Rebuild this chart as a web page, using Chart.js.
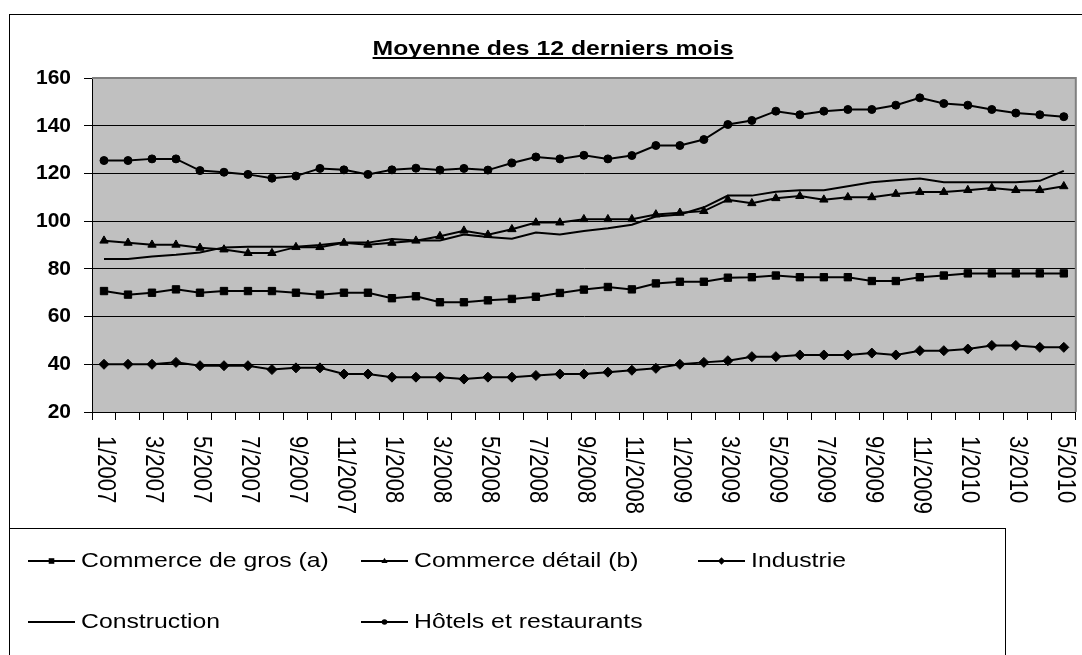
<!DOCTYPE html>
<html>
<head>
<meta charset="utf-8">
<script src="https://cdn.jsdelivr.net/npm/chart.js@4.4.1/dist/chart.umd.min.js"></script>
<style>
  html, body { margin: 0; padding: 0; background: #fff; }
</style>
</head>
<body>
<canvas id="chart" width="1082" height="655"></canvas>
<script>
const months = [
    '1/2007', '2/2007', '3/2007', '4/2007', '5/2007', '6/2007', '7/2007', '8/2007', '9/2007', '10/2007', '11/2007', '12/2007',
    '1/2008', '2/2008', '3/2008', '4/2008', '5/2008', '6/2008', '7/2008', '8/2008', '9/2008', '10/2008', '11/2008', '12/2008',
    '1/2009', '2/2009', '3/2009', '4/2009', '5/2009', '6/2009', '7/2009', '8/2009', '9/2009', '10/2009', '11/2009', '12/2009',
    '1/2010', '2/2010', '3/2010', '4/2010', '5/2010'
];

const grosValues = [
    70.7, 69.2, 70.0, 71.4, 70.0, 70.7, 70.7, 70.7, 70.0, 69.2, 70.0, 70.0,
    67.7, 68.5, 66.0, 66.0, 66.8, 67.4, 68.3, 69.9, 71.3, 72.4, 71.4, 73.9,
    74.6, 74.6, 76.3, 76.5, 77.2, 76.5, 76.5, 76.5, 74.9, 74.9, 76.5, 77.2,
    78.1, 78.1, 78.1, 78.1, 78.1
];
const detailValues = [
    91.8, 90.9, 90.1, 90.1, 88.8, 88.1, 86.6, 86.6, 89.1, 89.1, 90.9, 90.1,
    90.9, 91.8, 93.7, 96.0, 94.3, 96.6, 99.4, 99.4, 100.8, 100.8, 100.8, 102.8,
    103.5, 104.2, 109.0, 107.5, 109.6, 110.5, 109.0, 110.0, 110.0, 111.4, 112.2, 112.2,
    113.0, 113.9, 113.0, 113.0, 114.6
];
const industrieValues = [
    40.0, 40.0, 40.0, 40.8, 39.4, 39.4, 39.4, 37.8, 38.5, 38.5, 35.9, 35.9,
    34.6, 34.6, 34.6, 33.8, 34.6, 34.6, 35.3, 35.9, 35.9, 36.7, 37.5, 38.3,
    40.0, 40.8, 41.5, 43.2, 43.2, 43.9, 43.9, 43.9, 44.7, 43.9, 45.7, 45.7,
    46.4, 47.9, 47.9, 47.1, 47.1
];
const constructionValues = [
    84.1, 84.1, 85.2, 85.9, 86.9, 89.0, 89.3, 89.3, 89.3, 90.0, 91.0, 91.0,
    92.5, 91.9, 91.9, 94.4, 93.4, 92.6, 95.2, 94.4, 95.9, 97.0, 98.5, 101.9,
    102.8, 105.8, 110.7, 110.7, 112.3, 113.0, 113.0, 114.6, 116.3, 117.1, 117.9, 116.3,
    116.3, 116.3, 116.3, 116.9, 121.1
];
const hotelsValues = [
    125.4, 125.4, 126.1, 126.1, 121.2, 120.5, 119.6, 118.0, 118.9, 122.1, 121.5, 119.6,
    121.5, 122.2, 121.4, 122.1, 121.4, 124.4, 126.9, 126.1, 127.6, 126.1, 127.5, 131.7,
    131.7, 134.2, 140.5, 142.2, 146.1, 144.6, 146.1, 146.8, 146.8, 148.6, 151.7, 149.3,
    148.6, 146.8, 145.3, 144.6, 143.8
];

const yTicks = [20, 40, 60, 80, 100, 120, 140, 160];
const chartTitle = 'Moyenne des 12 derniers mois';

const FONT = "'Liberation Sans', Arial, sans-serif";
const STRETCH = 1.18;   // the original text is a bit wider than Arial

function series(label, data, style, radius) {
    return {
        label: label,
        data: data,
        borderColor: '#000',
        backgroundColor: '#000',
        borderWidth: 2,
        pointStyle: style || 'circle',
        pointRadius: radius,
        pointBackgroundColor: '#000',
        pointBorderColor: '#000',
        pointBorderWidth: 1,
        tension: 0
    };
}

function drawMarker(ctx, style, x, y, r) {
    ctx.beginPath();
    if (style === 'rect') {
        ctx.rect(x - r, y - r, 2 * r, 2 * r);
    } else if (style === 'triangle') {
        ctx.moveTo(x, y - r * 1.2);
        ctx.lineTo(x + r * 1.1, y + r * 0.7);
        ctx.lineTo(x - r * 1.1, y + r * 0.7);
        ctx.closePath();
    } else if (style === 'rectRot') {
        ctx.moveTo(x, y - r * 1.3);
        ctx.lineTo(x + r * 1.3, y);
        ctx.lineTo(x, y + r * 1.3);
        ctx.lineTo(x - r * 1.3, y);
        ctx.closePath();
    } else {
        ctx.arc(x, y, r, 0, Math.PI * 2);
    }
    ctx.fill();
}

const decor = {
    id: 'decor',
    beforeDraw(chart) {
        const { ctx, chartArea: a } = chart;
        ctx.save();
        ctx.fillStyle = '#fff';
        ctx.fillRect(0, 0, chart.width, chart.height);
        ctx.fillStyle = '#c0c0c0';
        ctx.fillRect(a.left, a.top, a.right - a.left, a.bottom - a.top);
        ctx.restore();
    },
    beforeDatasetsDraw(chart) {
        const { ctx, chartArea: a } = chart;
        ctx.save();
        ctx.strokeStyle = '#808080';
        ctx.lineWidth = 2;
        ctx.beginPath();
        ctx.moveTo(a.left, a.top);
        ctx.lineTo(a.right, a.top);
        ctx.lineTo(a.right, a.bottom);
        ctx.stroke();
        ctx.restore();
    },
    afterDraw(chart) {
        const ctx = chart.ctx;
        const xs = chart.scales.x;
        ctx.save();

        // outer frame and legend box
        ctx.strokeStyle = '#000';
        ctx.lineWidth = 1;
        ctx.strokeRect(9.5, 14.5, 1200, 800);
        ctx.strokeRect(9.5, 528.5, 996, 300);

        // title, underlined
        ctx.fillStyle = '#000';
        ctx.font = 'bold 21px ' + FONT;
        ctx.textAlign = 'center';
        ctx.textBaseline = 'alphabetic';
        const tw = ctx.measureText(chartTitle).width * STRETCH;
        ctx.save();
        ctx.translate(553, 55);
        ctx.scale(STRETCH, 1);
        ctx.fillText(chartTitle, 0, 0);
        ctx.restore();
        ctx.fillRect(553 - tw / 2, 57, tw, 2);

        // x labels, rotated clockwise, every other month
        ctx.font = '22px ' + FONT;
        ctx.textAlign = 'left';
        ctx.textBaseline = 'middle';
        months.forEach((m, i) => {
            if (i % 2) return;
            const x = xs.getPixelForValue(i);
            ctx.save();
            ctx.translate(x + 1, 436);
            ctx.rotate(Math.PI / 2);
            ctx.scale(1, STRETCH);
            ctx.fillText(m, 0, 0);
            ctx.restore();
        });

        // legend
        const cols = [28, 361, 698];
        const rows = [561, 622];
        ctx.font = '21px ' + FONT;
        chart.data.datasets.forEach((ds, i) => {
            const x0 = cols[i % 3];
            const y0 = rows[Math.floor(i / 3)];
            ctx.strokeStyle = '#000';
            ctx.lineWidth = 2;
            ctx.beginPath();
            ctx.moveTo(x0, y0);
            ctx.lineTo(x0 + 47, y0);
            ctx.stroke();
            if (ds.pointRadius > 0) drawMarker(ctx, ds.pointStyle, x0 + 23.5, y0, 2.8);
            ctx.save();
            ctx.translate(x0 + 53, y0);
            ctx.scale(STRETCH, 1);
            ctx.fillText(ds.label, 0, 0);
            ctx.restore();
        });

        ctx.restore();
    }
};

const ctx = document.getElementById('chart').getContext('2d');
const chart = new Chart(ctx, {
    type: 'line',
    data: {
        labels: months,
        datasets: [
            series('Commerce de gros (a)', grosValues, 'rect', 5.2),
            series('Commerce détail (b)', detailValues, 'triangle', 4.8),
            series('Industrie', industrieValues, 'rectRot', 5),
            series('Construction', constructionValues, 'circle', 0),
            series('Hôtels et restaurants', hotelsValues, 'circle', 4)
        ]
    },
    options: {
        responsive: false,
        animation: false,
        layout: { padding: { top: 78, left: 0, right: 4, bottom: 233 } },
        plugins: {
            legend: { display: false },
            title: { display: false },
            tooltip: { enabled: false }
        },
        scales: {
            x: {
                type: 'category',
                offset: true,
                grid: { offset: true, drawOnChartArea: false, tickLength: 8, color: '#000' },
                border: { color: '#000', width: 1 },
                ticks: { display: false, autoSkip: false },
                afterFit(s) { s.height = 10; }
            },
            y: {
                min: yTicks[0],
                max: yTicks[yTicks.length - 1],
                afterBuildTicks(s) { s.ticks = yTicks.map(v => ({ value: v })); },
                ticks: {
                    color: '#000',
                    padding: 13,
                    font: { family: FONT, size: 21, weight: 'bold' }
                },
                grid: { color: '#000', tickLength: 8 },
                border: { color: '#000', width: 1 },
                afterFit(s) { s.width = 92; }
            }
        }
    },
    plugins: [decor]
});
</script>
</body>
</html>
